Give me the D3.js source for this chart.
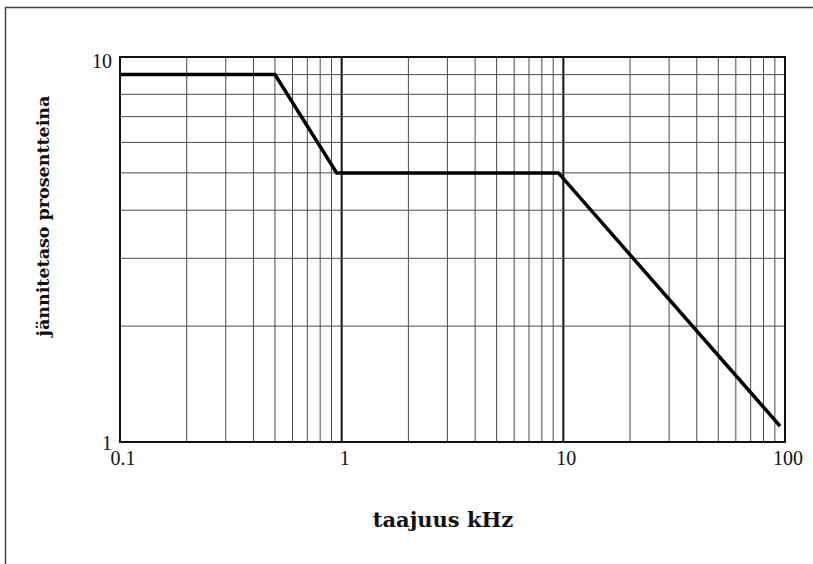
<!DOCTYPE html>
<html>
<head>
<meta charset="utf-8">
<script src="https://cdn.jsdelivr.net/npm/d3@7"></script>
<style>
  html, body { margin: 0; padding: 0; background: #fff; }
  svg { display: block; }
</style>
</head>
<body>
<svg id="chart" width="813" height="564"></svg>
<script>
// Data
const freq = [0.1, 0.5, 0.95, 9.5, 95];     // kHz
const level = [9, 9, 5, 5, 1.1];            // percent
const xTickLabels = [0.1, 1, 10, 100];
const yTickLabels = [1, 10];
const xTitle = "taajuus kHz";
const yTitle = "jännitetaso prosentteina";

const W = 813, H = 564;
const m = { left: 120, right: 28, top: 57, bottom: 122 };
const svg = d3.select("#chart");

// frame (left and top edges of the scanned page)
svg.append("line").attr("x1", 5.5).attr("y1", 7).attr("x2", 5.5).attr("y2", H)
  .attr("stroke", "#444").attr("stroke-width", 1.5);
svg.append("line").attr("x1", 5).attr("y1", 7.5).attr("x2", W).attr("y2", 7.5)
  .attr("stroke", "#444").attr("stroke-width", 1.5);

const x = d3.scaleLog().domain([0.1, 100]).range([m.left, W - m.right]);
const y = d3.scaleLog().domain([1, 10]).range([H - m.bottom, m.top]);

const g = svg.append("g");
const isDecade = v => Math.abs(Math.log10(v) - Math.round(Math.log10(v))) < 1e-9;

// vertical grid
g.selectAll(".vg").data(x.ticks()).join("line")
  .attr("x1", d => x(d)).attr("x2", d => x(d))
  .attr("y1", y(10)).attr("y2", y(1))
  .attr("stroke", d => isDecade(d) ? "#111" : "#4a4a4a")
  .attr("stroke-width", d => isDecade(d) ? 2 : 1);

// horizontal grid
g.selectAll(".hg").data(y.ticks()).join("line")
  .attr("x1", x(0.1)).attr("x2", x(100))
  .attr("y1", d => y(d)).attr("y2", d => y(d))
  .attr("stroke", "#4a4a4a").attr("stroke-width", 1);

// plot frame
g.append("rect")
  .attr("x", x(0.1)).attr("y", y(10))
  .attr("width", x(100) - x(0.1)).attr("height", y(1) - y(10))
  .attr("fill", "none").attr("stroke", "#111").attr("stroke-width", 2);

// data line
const line = d3.line().x((d, i) => x(freq[i])).y((d, i) => y(level[i]));
g.append("path").datum(freq).attr("d", line)
  .attr("fill", "none").attr("stroke", "#000").attr("stroke-width", 3.5)
  .attr("stroke-linejoin", "miter");

// x tick labels
g.selectAll(".xl").data(xTickLabels).join("text")
  .attr("x", d => x(d) + 3).attr("y", y(1) + 23)
  .attr("text-anchor", "middle")
  .attr("font-family", "Liberation Serif, Times New Roman, serif")
  .attr("font-size", 20).attr("fill", "#111")
  .text(d => d);

// y tick labels
g.selectAll(".yl").data(yTickLabels).join("text")
  .attr("x", x(0.1) - 8).attr("y", d => d === 10 ? y(d) + 11 : y(d) + 8)
  .attr("text-anchor", "end")
  .attr("font-family", "Liberation Serif, Times New Roman, serif")
  .attr("font-size", 20).attr("fill", "#111")
  .text(d => d);

// axis titles
svg.append("text")
  .attr("x", 443).attr("y", 527)
  .attr("text-anchor", "middle")
  .attr("font-family", "DejaVu Serif, serif").attr("font-weight", "bold")
  .attr("font-size", 21).attr("fill", "#111")
  .text(xTitle);

svg.append("text")
  .attr("transform", "translate(49,216) rotate(-90)")
  .attr("text-anchor", "middle")
  .attr("font-family", "DejaVu Serif, serif").attr("font-weight", "bold")
  .attr("font-size", 17.5).attr("fill", "#111")
  .text(yTitle);
</script>
</body>
</html>
